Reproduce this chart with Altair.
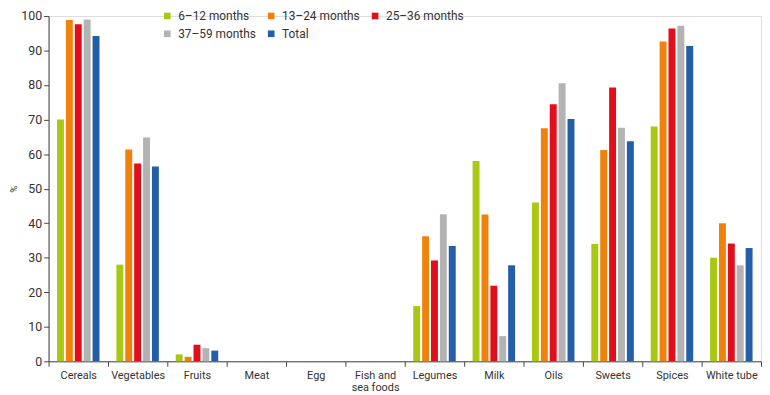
import altair as alt
import pandas as pd

categories = ["Cereals", "Vegetables", "Fruits", "Meat", "Egg", "Fish and sea foods",
              "Legumes", "Milk", "Oils", "Sweets", "Spices", "White tube"]
groups = ["6–12 months", "13–24 months", "25–36 months", "37–59 months", "Total"]
colors = ["#a9c814", "#f0820c", "#e30e1b", "#b3b3b3", "#235ea8"]

v_6_12 = [70.0, 28.0, 2.0, 0, 0, 0, 16.0, 58.0, 46.0, 34.0, 68.0, 30.0]
v_13_24 = [98.8, 61.3, 1.3, 0, 0, 0, 36.2, 42.5, 67.5, 61.2, 92.6, 40.0]
v_25_36 = [97.6, 57.3, 4.8, 0, 0, 0, 29.2, 21.9, 74.4, 79.3, 96.4, 34.1]
v_37_59 = [99.0, 64.8, 3.8, 0, 0, 0, 42.6, 7.3, 80.5, 67.6, 97.2, 27.8]
v_total = [94.2, 56.4, 3.1, 0, 0, 0, 33.4, 27.8, 70.2, 63.7, 91.3, 32.8]

series = [v_6_12, v_13_24, v_25_36, v_37_59, v_total]
rows = []
for g, vals in zip(groups, series):
    for c, v in zip(categories, vals):
        rows.append({"category": c, "group": g, "value": v})
df = pd.DataFrame(rows)

font = "Roboto"

chart = alt.Chart(df).mark_bar().encode(
    x=alt.X("category:N", sort=categories,
            scale=alt.Scale(paddingInner=0, paddingOuter=0),
            axis=alt.Axis(title=None, labelAngle=0, tickBand="extent",
                          labelExpr="datum.label == 'Fish and sea foods' ? ['Fish and', 'sea foods'] : datum.label",
                          domainColor="#444", tickColor="#444", tickSize=5,
                          labelColor="#333", labelFontSize=11, labelFont=font,
                          labelPadding=3, labelLineHeight=13)),
    xOffset=alt.XOffset("group:N", sort=groups,
                        scale=alt.Scale(paddingInner=0.22, paddingOuter=0.95)),
    y=alt.Y("value:Q", scale=alt.Scale(domain=[0, 100]),
            axis=alt.Axis(title="%", values=list(range(0, 101, 10)), grid=False,
                          domainColor="#444", tickColor="#444", tickSize=5,
                          labelColor="#333", labelFontSize=12.5, labelFont=font,
                          labelPadding=2,
                          titleFont=font, titleFontWeight="normal", titleFontSize=10,
                          titleColor="#333", titlePadding=2)),
    color=alt.Color("group:N", sort=groups,
                    scale=alt.Scale(domain=groups, range=colors),
                    legend=alt.Legend(title=None, orient="none", legendX=114, legendY=-6,
                                      direction="horizontal", columns=3,
                                      symbolType="square", symbolSize=45,
                                      symbolStrokeWidth=0, labelFont=font,
                                      labelFontSize=12, labelColor="#333",
                                      columnPadding=9, rowPadding=6, labelOffset=5)),
).properties(width=762, height=387,
             autosize=alt.AutoSizeParams(type="fit", contains="padding"),
             padding={"left": 0, "top": 0, "right": 0, "bottom": 0}
).configure_view(stroke=None).configure(font=font)

chart.save("out.html", embed_options={"renderer": "svg", "actions": False})
